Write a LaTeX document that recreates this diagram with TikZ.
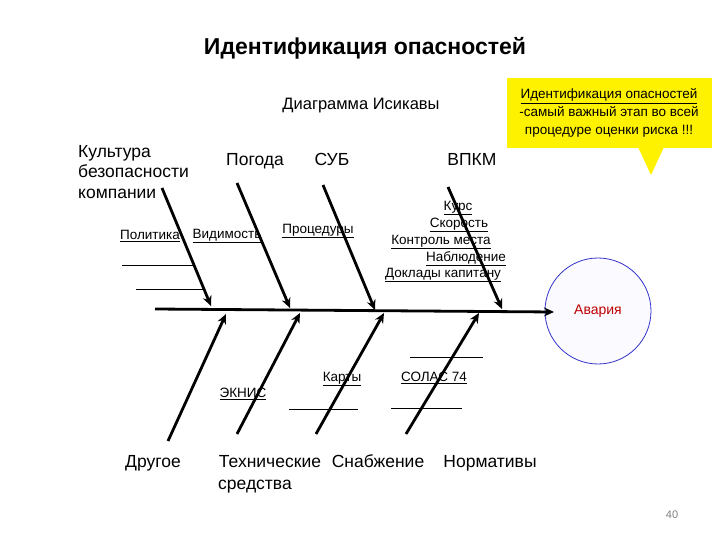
\documentclass[tikz,border=0pt]{standalone}
\usepackage{fontspec}
\setmainfont{Liberation Sans}
\usetikzlibrary{arrows.meta}
\begin{document}
\begin{tikzpicture}[x=1pt,y=-1pt,
  bone/.style={line width=2.8pt,-{Stealth[length=10pt,width=9pt]}},
  thin/.style={line width=0.8pt},
  cat/.style={font=\fontsize{17.5}{20}\selectfont,anchor=base,inner sep=0pt},
  sub/.style={font=\fontsize{13.5}{15}\selectfont,inner sep=1pt}]
\useasboundingbox (0,0) rectangle (720,540);
\node[font=\bfseries\fontsize{23}{26}\selectfont] (title) at (365,48) {Идентификация опасностей};
\node[font=\fontsize{16.5}{19}\selectfont] (dia) at (361,106) {Диаграмма Исикавы};
% callout
\fill[yellow] (507,78) rectangle (712,148);
\fill[yellow] (638,147) -- (664,147) -- (651,175) -- cycle;
\node[font=\fontsize{13.5}{18}\selectfont,align=center] (call) at (609,113) {\underline{Идентификация опасностей}\\-самый важный этап во всей\\процедуре оценки риска !!!};
% circle
\node[draw=blue!60!gray,fill=blue!2,circle,minimum size=106pt,line width=0.8pt] (av) at (598,311) {};
\node[font=\fontsize{14}{16}\selectfont,text=red!75!black] (avt) at (598,311) {Авария};
\coordinate (s0) at (155,309);
\coordinate (s1) at (554,312);
\draw[bone] (s0) -- (s1);
% top bones
\coordinate (a0) at (162,188); \coordinate (a1) at (211,306);
\coordinate (b0) at (237,183); \coordinate (b1) at (290,308);
\coordinate (c0) at (323,185); \coordinate (c1) at (375,310);
\coordinate (d0) at (448,187); \coordinate (d1) at (502,309);
\draw[bone] (a0) -- (a1); \draw[bone] (b0) -- (b1);
\draw[bone] (c0) -- (c1); \draw[bone] (d0) -- (d1);
% bottom bones
\coordinate (e0) at (168,441); \coordinate (e1) at (226,314);
\coordinate (f0) at (237,434); \coordinate (f1) at (300,313);
\coordinate (g0) at (316,434); \coordinate (g1) at (384,313);
\coordinate (h0) at (406,434); \coordinate (h1) at (479,313);
\draw[bone] (e0) -- (e1); \draw[bone] (f0) -- (f1);
\draw[bone] (g0) -- (g1); \draw[bone] (h0) -- (h1);
% thin lines
\coordinate (l1) at (122,265); \coordinate (l2) at (193,265);
\coordinate (l3) at (136,289); \coordinate (l4) at (205,289);
\coordinate (l5) at (410,357); \coordinate (l6) at (483,357);
\coordinate (l7) at (289,409); \coordinate (l8) at (358,409);
\coordinate (l9) at (391,408); \coordinate (l10) at (462,408);
\draw[thin] (l1)--(l2); \draw[thin] (l3)--(l4); \draw[thin] (l5)--(l6);
\draw[thin] (l7)--(l8); \draw[thin] (l9)--(l10);
% categories
\node[cat,align=left,anchor=north west,font=\fontsize{17.5}{20.5}\selectfont] (kult) at (78,145) {Культура\\безопасности\\компании};
\node[cat] (pog) at (255,166) {Погода};
\node[cat] (sub) at (332,166) {СУБ};
\node[cat] (vpkm) at (472,166) {ВПКМ};
\node[cat] (dr) at (153,467) {Другое};
\node[cat] (teh) at (270,467) {Технические};
\node[cat] (teh2) at (255,489) {средства};
\node[cat] (sn) at (378,467) {Снабжение};
\node[cat] (nor) at (490,467) {Нормативы};
% sub labels
\node[sub] (pol) at (150,236) {\underline{Политика}};
\node[sub] (vid) at (227,236) {\underline{Видимость}};
\node[sub] (pro) at (318,231) {\underline{Процедуры}};
\node[sub] (kur) at (458,208) {\underline{Курс}};
\node[sub] (sko) at (459,225) {\underline{Скорость}};
\node[sub] (kon) at (441,242) {\underline{Контроль места}};
\node[sub] (nab) at (466,259) {\underline{Наблюдение}};
\node[sub] (dok) at (443,275) {\underline{Доклады капитану}};
\node[sub] (ekn) at (243,394) {\underline{ЭКНИС}};
\node[sub] (kar) at (342,379) {\underline{Карты}};
\node[sub] (sol) at (434,378) {\underline{СОЛАС 74}};
\node[font=\fontsize{11}{13}\selectfont,text=gray] (pg) at (672,515) {40};
\end{tikzpicture}
\end{document}
